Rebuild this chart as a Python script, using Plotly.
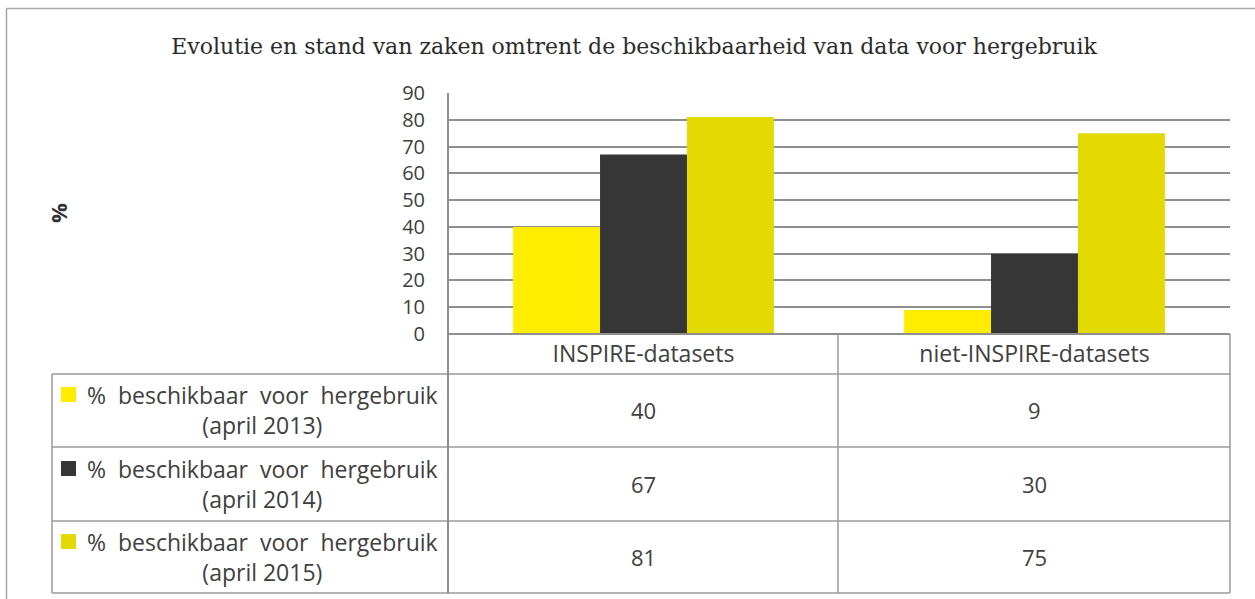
import plotly.graph_objects as go

# ---- data ----
categories = ["INSPIRE-datasets", "niet-INSPIRE-datasets"]
series_names = [
    "% beschikbaar voor hergebruik<br>(april 2013)",
    "% beschikbaar voor hergebruik<br>(april 2014)",
    "% beschikbaar voor hergebruik<br>(april 2015)",
]
values_2013 = [40, 9]
values_2014 = [67, 30]
values_2015 = [81, 75]
y_ticks = [0, 10, 20, 30, 40, 50, 60, 70, 80, 90]
title_text = "Evolutie en stand van zaken omtrent de beschikbaarheid van data voor hergebruik"

series_values = [values_2013, values_2014, values_2015]
colors = ["#FFED00", "#363636", "#E3D903"]

W, H = 1255, 599
L, R, T, B = 448, 1230, 93, 334  # plot area in pixels

def px(x):
    return (x - L) / (R - L)

def py(y):
    return (B - y) / (B - T)

TEXT = "#404040"
GRID = "#8e8e8e"
BORDER = "#9a9a9a"
SANS = "Open Sans, Noto Sans, sans-serif"
SERIF = "DejaVu Serif, serif"

fig = go.Figure()
for name, vals, col in zip(series_names, series_values, colors):
    fig.add_trace(go.Bar(x=categories, y=vals, name=name, marker=dict(color=col, line=dict(width=0)),
                         showlegend=False))

shapes = []
def line(x0, y0, x1, y1, color=BORDER, width=1.5):
    shapes.append(dict(type="line", xref="paper", yref="paper", x0=px(x0), y0=py(y0), x1=px(x1), y1=py(y1),
                       line=dict(color=color, width=width), layer="above"))

# outer frame
line(6.5, 8.5, 1260, 8.5, color="#a8a8a8", width=1.5)
line(6.5, 8.5, 6.5, 605, color="#a8a8a8", width=1.5)

# data table grid
row_lines = [374, 447, 521, 593]
line(L, B, R, B, color=GRID, width=2)
for yy in row_lines:
    line(52, yy, R, yy)
line(52, 374, 52, 593)
line(L, T, L, 593, color=GRID, width=2)
line(838, B, 838, 593)
line(R, B, R, 593)

annotations = []
row_centers = [410, 484, 557]
for i, (name, vals, col) in enumerate(zip(series_names, series_values, colors)):
    yc = row_centers[i]
    label = name.replace(" ", "&nbsp;&nbsp;", 3).replace("<br>(april&nbsp;&nbsp;", "<br>(april ")
    shapes.append(dict(type="rect", xref="paper", yref="paper", x0=px(61), x1=px(76),
                       y0=py(yc - 23), y1=py(yc - 8), fillcolor=col, line=dict(width=0)))
    annotations.append(dict(xref="paper", yref="paper", x=px(262), y=py(yc), text=label,
                            showarrow=False, xanchor="center", yanchor="middle", align="center",
                            font=dict(family=SANS, size=23, color=TEXT)))
    for c, v in zip(categories, vals):
        annotations.append(dict(xref="x", yref="paper", x=c, y=py(yc), text=str(v), showarrow=False,
                                xanchor="center", yanchor="middle",
                                font=dict(family=SANS, size=22, color=TEXT)))

annotations.append(dict(xref="paper", yref="paper", x=px(58), y=py(213), text="<b>%</b>", textangle=-90,
                        xanchor="center", yanchor="middle",
                        showarrow=False, font=dict(family=SANS, size=22, color="#333333")))

fig.update_layout(
    width=W, height=H,
    margin=dict(l=L, r=W - R, t=T, b=H - B),
    paper_bgcolor="white", plot_bgcolor="white",
    barmode="group", bargap=0.333, bargroupgap=0,
    title=dict(text=title_text, x=634 / W, xanchor="center", y=1 - 46 / H, yanchor="middle",
               font=dict(family=SERIF, size=22, color="#2b2b2b")),
    xaxis=dict(showgrid=False, showline=False, ticks="", zeroline=False,
               tickfont=dict(family=SANS, size=23, color=TEXT), ticklabelstandoff=4),
    yaxis=dict(range=[0, 90], tickvals=y_ticks, showgrid=True, gridcolor=GRID, gridwidth=2,
               zeroline=False, showline=False, ticks="",
               tickfont=dict(family=SANS, size=20, color=TEXT), ticklabelstandoff=22),
    shapes=shapes, annotations=annotations,
)

fig.write_html("out.html", config={"displayModeBar": False},
               post_script="document.body.style.margin='0';document.body.style.overflow='hidden';")
